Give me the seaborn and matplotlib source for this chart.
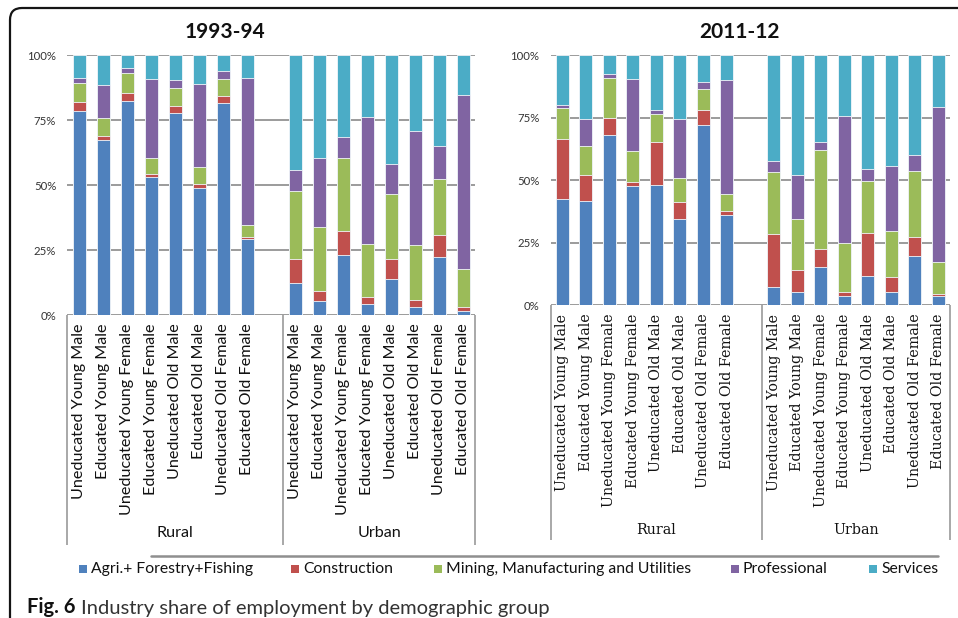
import numpy as np
import pandas as pd
import matplotlib
matplotlib.use("Agg")
import matplotlib.pyplot as plt
import seaborn as sns
from matplotlib.patches import FancyBboxPatch, Rectangle
from matplotlib.lines import Line2D
from matplotlib.transforms import IdentityTransform

# ---------------- data ----------------
demographics = ["Uneducated Young Male", "Educated Young Male", "Uneducated Young Female",
                "Educated Young Female", "Uneducated Old Male", "Educated Old Male",
                "Uneducated Old Female", "Educated Old Female"]
groups = ["Rural", "Urban"]
industries = ["Agri.+ Forestry+Fishing", "Construction", "Mining, Manufacturing and Utilities",
              "Professional", "Services"]
industry_colors = ["#4F81BD", "#C0504D", "#9BBB59", "#8064A2", "#4BACC6"]
panel_titles = ["1993-94", "2011-12"]
y_ticks = [0, 25, 50, 75, 100]
y_tick_labels = ["0%", "25%", "50%", "75%", "100%"]
caption_bold = "Fig. 6"
caption_text = "Industry share of employment by demographic group"

# 1993-94 : 8 rural groups followed by 8 urban groups
agri_1993 = [78.7, 67.6, 82.3, 53.1, 77.7, 48.8, 81.8, 29.2,
             12.6, 5.6, 23.1, 4.4, 13.8, 3.3, 22.3, 1.5]
constr_1993 = [3.5, 1.4, 3.3, 1.4, 2.9, 1.7, 2.7, 1.1,
               9.2, 3.9, 9.5, 2.7, 7.9, 2.7, 8.6, 1.8]
mining_1993 = [7.0, 6.8, 7.5, 6.0, 7.0, 6.4, 6.3, 4.6,
               26.1, 24.6, 27.9, 20.3, 25.0, 21.1, 21.5, 14.4]
prof_1993 = [2.0, 12.9, 1.9, 30.5, 2.9, 32.2, 3.0, 56.3,
             8.1, 26.5, 8.2, 49.0, 11.6, 43.9, 12.9, 67.2]
serv_1993 = [8.8, 11.3, 5.0, 9.0, 9.5, 10.9, 6.2, 8.8,
             44.0, 39.4, 31.3, 23.6, 41.7, 29.0, 34.7, 15.1]

# 2011-12
agri_2011 = [42.4, 41.6, 68.0, 47.6, 48.0, 34.7, 72.0, 36.0,
             7.2, 5.4, 15.4, 3.7, 11.8, 5.4, 19.8, 3.7]
constr_2011 = [24.1, 10.7, 6.9, 1.7, 17.5, 6.8, 6.0, 1.9,
               21.3, 8.9, 7.1, 1.7, 17.1, 6.0, 7.5, 0.7]
mining_2011 = [12.3, 11.4, 16.0, 12.4, 11.0, 9.4, 8.7, 6.6,
               24.9, 20.2, 39.6, 19.4, 21.0, 18.5, 26.4, 12.9]
prof_2011 = [1.2, 10.8, 1.6, 29.0, 1.8, 23.8, 2.8, 45.5,
             4.4, 17.7, 3.4, 51.1, 4.7, 25.7, 6.5, 62.2]
serv_2011 = [20.0, 25.5, 7.5, 9.3, 21.7, 25.3, 10.5, 10.0,
             42.2, 47.8, 34.5, 24.1, 45.4, 44.4, 39.8, 20.5]

# ---------------- figure ----------------
sns.set_style("white")
plt.rcParams["font.family"] = ["Lato", "DejaVu Sans"]

W, H = 958, 618
fig = plt.figure(figsize=(W / 100, H / 100), dpi=100)


def px_axes(x0, y_top, x1, y_bot):
    return fig.add_axes([x0 / W, 1 - y_bot / H, (x1 - x0) / W, (y_bot - y_top) / H])


slot_keys = [f"R{i}" for i in range(8)] + ["gap"] + [f"U{i}" for i in range(8)]
data_keys = [k for k in slot_keys if k != "gap"]


def draw_panel(ax, series, label_family, label_size, box_bottom, group_y):
    cum = np.cumsum(np.array(series, dtype=float), axis=0)
    for k in reversed(range(len(industries))):
        df = pd.DataFrame({"slot": data_keys, "share": cum[k]})
        sns.barplot(data=df, x="slot", y="share", order=slot_keys,
                    color=industry_colors[k], saturation=1, width=0.56,
                    edgecolor="#F2F6FA", linewidth=0.6, errorbar=None, ax=ax)
    ax.set_xlim(-0.5, 16.5)
    ax.set_ylim(0, 100)
    ax.set_yticks(y_ticks)
    ax.set_yticklabels(y_tick_labels, fontsize=8.2, color="#333333", family="Lato")
    ax.yaxis.grid(True, color="#8A8A8A", lw=1.2)
    ax.xaxis.grid(False)
    ax.set_axisbelow(True)
    for s in ax.spines.values():
        s.set_visible(False)
    ax.tick_params(axis="y", length=0, pad=8)
    pos = [i for i, k in enumerate(slot_keys) if k != "gap"]
    ax.set_xticks(pos)
    ax.set_xticklabels(demographics * 2, rotation=90, fontsize=label_size,
                       family=label_family, color="#111111")
    ax.tick_params(axis="x", length=0, pad=6)
    ax.set_xlabel("")
    ax.set_ylabel("")
    tr = ax.get_xaxis_transform()
    for xv in (-0.5, 8.5, 16.5):
        ax.plot([xv, xv], [0, box_bottom], transform=tr, clip_on=False,
                color="#9A9A9A", lw=1.2, solid_capstyle="butt")
    ax.text(4.0, group_y, groups[0], transform=tr, ha="center", va="center",
            fontsize=label_size, family=label_family, color="#111111")
    ax.text(12.5, group_y, groups[1], transform=tr, ha="center", va="center",
            fontsize=label_size, family=label_family, color="#111111")


ax1 = px_axes(67.3, 55.3, 475.3, 315.3)
draw_panel(ax1, [agri_1993, constr_1993, mining_1993, prof_1993, serv_1993],
           "Lato", 11.6, (315.3 - 545) / 260.0, (315.3 - 533) / 260.0)

ax2 = px_axes(550.5, 55.3, 950.0, 305.3)
draw_panel(ax2, [agri_2011, constr_2011, mining_2011, prof_2011, serv_2011],
           "DejaVu Serif", 10.25, (305.3 - 540) / 250.0, (305.3 - 530) / 250.0)

# titles
fig.text(225 / W, 1 - 32 / H, panel_titles[0], ha="center", va="center",
         fontsize=15, fontweight="bold", color="#111111")
fig.text(740 / W, 1 - 32 / H, panel_titles[1], ha="center", va="center",
         fontsize=15, fontweight="bold", color="#111111")

# outer rounded frame (top-left corner)
frame = FancyBboxPatch((10, -60), 1000, 670, boxstyle="round,pad=0,rounding_size=12",
                       transform=IdentityTransform(), fill=False,
                       edgecolor="#151515", lw=1.6)
fig.add_artist(frame)

# grey separator line above legend
fig.add_artist(Line2D([151 / W, 938 / W], [1 - 556 / H, 1 - 556 / H],
                      transform=fig.transFigure, color="#8F8F8F", lw=1.8))

# legend
legend_marker_x = [79, 291, 434, 731, 869]
legend_y = 569
for mx, name, col in zip(legend_marker_x, industries, industry_colors):
    fig.add_artist(Rectangle((mx / W, 1 - (legend_y + 4) / H), 8 / W, 8 / H,
                             transform=fig.transFigure, facecolor=col, edgecolor="none"))
    fig.text((mx + 12) / W, 1 - legend_y / H, name, ha="left", va="center",
             fontsize=11.3, color="#111111")

# caption
t1 = fig.text(27 / W, 1 - 613 / H, caption_bold, ha="left", va="baseline",
              fontsize=14.5, fontweight="bold", color="#111111")
ax1.annotate(caption_text, xy=(1, 0), xycoords=t1, xytext=(4, 0),
             textcoords="offset points", ha="left", va="bottom",
             fontsize=14.5, color="#333333", annotation_clip=False)

fig.savefig("out.png", dpi=100)
